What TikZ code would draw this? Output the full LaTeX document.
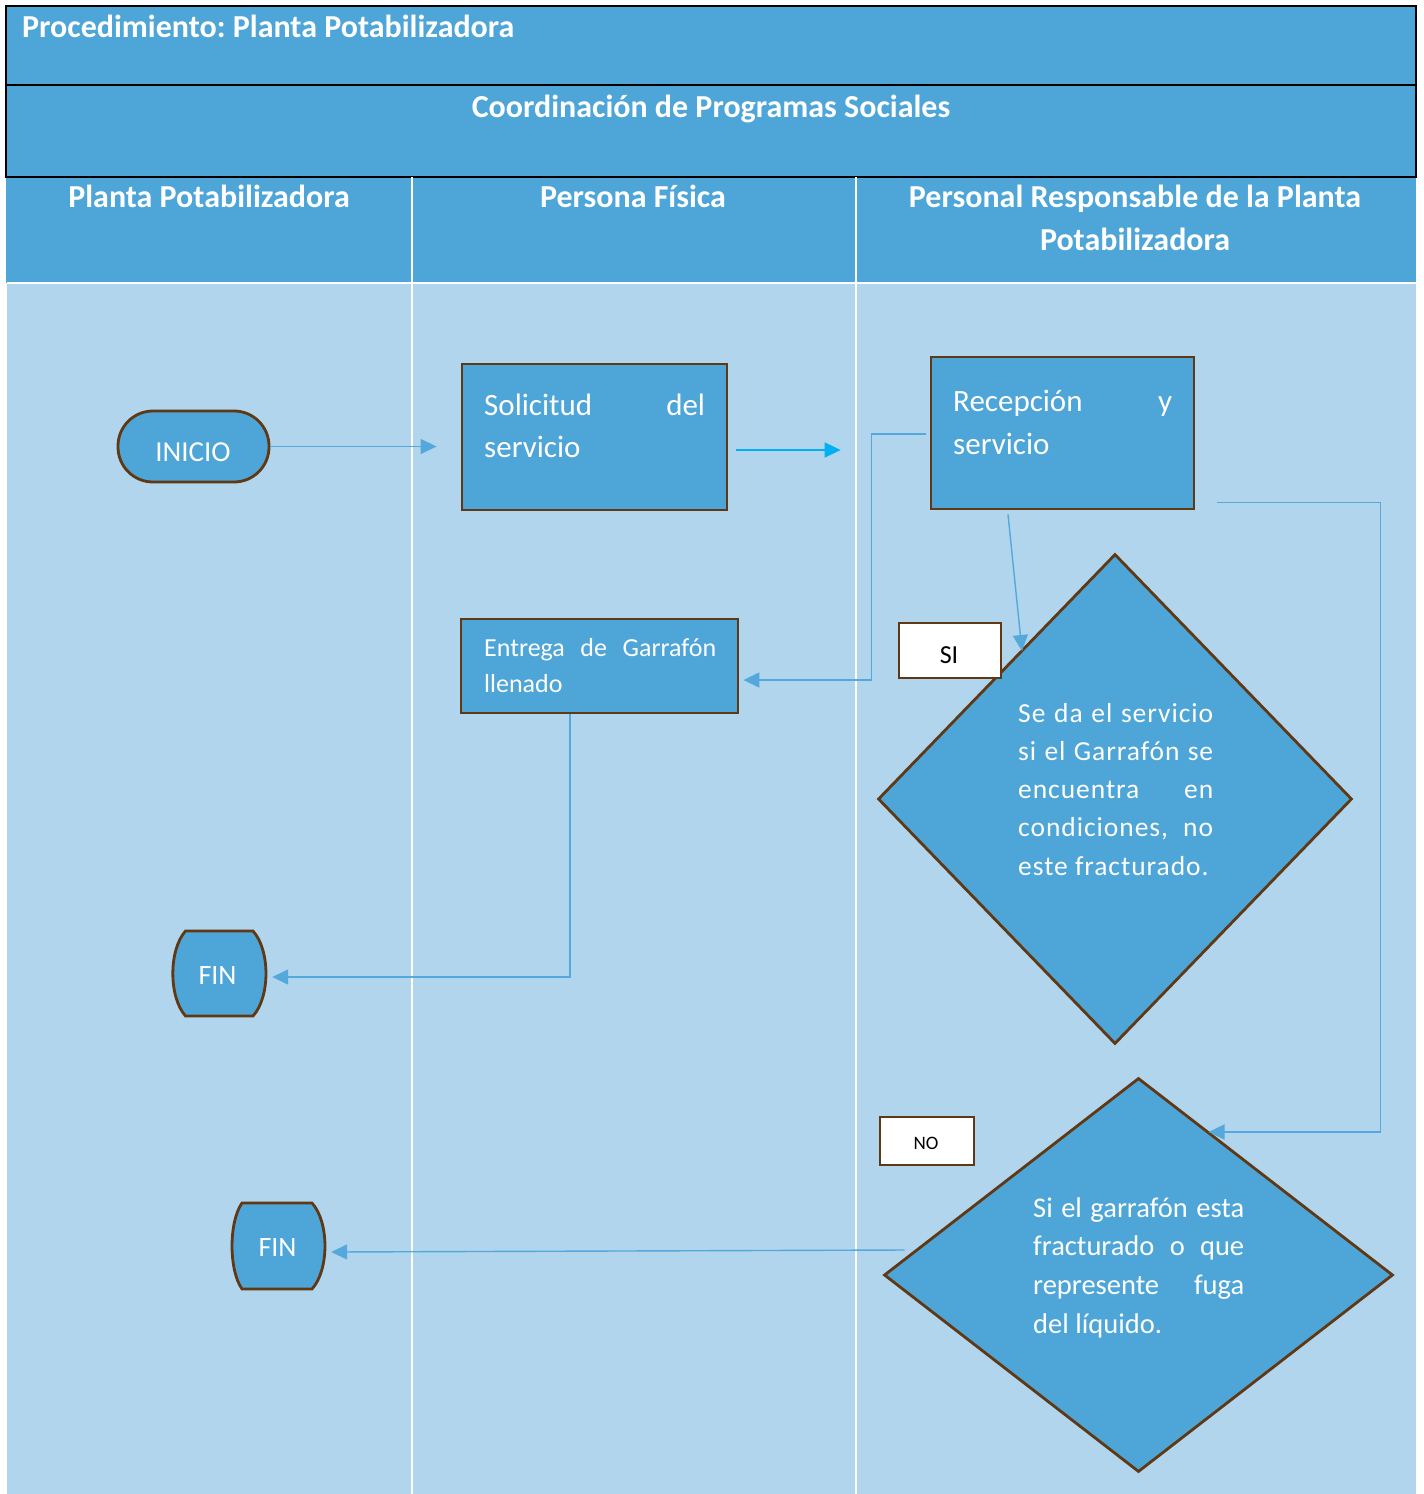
\documentclass[tikz,border=0pt]{standalone}
\usepackage{fontspec}
\setmainfont{Carlito}
\newfontfamily\spaced{Carlito}[LetterSpace=3.5]
\usetikzlibrary{arrows.meta,calc,shapes.geometric}
\definecolor{dblue}{RGB}{78,165,216}
\definecolor{lblue}{RGB}{176,213,236}
\definecolor{brn}{RGB}{96,56,19}
\definecolor{arr}{RGB}{84,168,220}
\definecolor{cyanarr}{RGB}{0,176,240}
\frenchspacing
\begin{document}
\begin{tikzpicture}[x=1pt,y=-1pt,
  box/.style={draw=brn, line width=2.8pt, fill=dblue, inner sep=0pt},
  tagbox/.style={draw=brn, line width=2.8pt, fill=white, inner sep=0pt},
  hdr/.style={text=white, font=\fontsize{32}{43}\selectfont\bfseries, inner sep=0pt},
  wt/.style={text=white, inner sep=0pt},
  conn/.style={draw=arr, line width=1.4pt, -{Triangle[length=16pt,width=15pt]}},
  ]
\useasboundingbox (0,0) rectangle (1424,1494);
% background
\fill[white] (0,0) rectangle (1424,1494);
\fill[lblue] (7,283) rectangle (1416,1494);
\fill[dblue] (6,6) rectangle (1416,283);
\draw[line width=2.5pt] (6,6) rectangle (1416,177);
\draw[line width=2.5pt] (6,85) -- (1416,85);
\draw[white, line width=2pt] (412,177) -- (412,1494);
\draw[white, line width=2pt] (856,177) -- (856,1494);
\draw[white, line width=2pt] (7,283) -- (1416,283);
% headers
\node[hdr, anchor=base west] (t1) at (22,37) {Procedimiento: Planta Potabilizadora};
\node[hdr, anchor=base] (t2) at (711,117) {Coordinación de Programas Sociales};
\node[hdr, anchor=base] (h1) at (209,207) {Planta Potabilizadora};
\node[hdr, anchor=base] (h2) at (633,207) {Persona Física};
\node[hdr, anchor=base] (h3) at (1135,207) {\parbox[t]{520pt}{\centering Personal Responsable de la Planta\\Potabilizadora}};
% shapes
\node[box, rounded corners=35pt, minimum width=151pt, minimum height=71pt] (ini) at (193.5,446.5) {};
\node[wt, anchor=base, font=\fontsize{29}{35}\selectfont] (inil) at (193,461.5) {INICIO};
\node[box, minimum width=265pt, minimum height=146pt] (sol) at (594.5,437) {};
\node[wt, anchor=base west, font=\fontsize{31}{42}\selectfont] (soll) at (484,415)
  {\parbox[t]{221pt}{\makebox[221pt][s]{Solicitud del}\\servicio}};
\node[box, minimum width=263pt, minimum height=152pt] (rec) at (1062.5,433) {};
\node[wt, anchor=base west, font=\fontsize{31}{43}\selectfont] (recl) at (953,411)
  {\parbox[t]{219pt}{\makebox[219pt][s]{Recepción y}\\servicio}};
\node[box, minimum width=277pt, minimum height=94pt] (ent) at (599.5,666) {};
\node[wt, anchor=base west, font=\fontsize{26}{36}\selectfont] (entl) at (484,656)
  {\parbox[t]{232pt}{\makebox[232pt][s]{Entrega de Garrafón}\\llenado}};
\node[box, diamond, minimum width=474pt, minimum height=490pt] (d1) at (1115,799) {};
\node[wt, anchor=base west, font=\spaced\fontsize{27.5}{38.3}\selectfont] (d1l) at (1018,722)
  {\parbox[t]{195pt}{\makebox[195pt][s]{Se da el servicio}\\\makebox[195pt][s]{si el Garrafón se}\\\makebox[195pt][s]{encuentra en}\\\makebox[195pt][s]{condiciones, no}\\este fracturado.}};
\node[box, diamond, minimum width=509pt, minimum height=394pt] (d2) at (1138.5,1275) {};
\node[wt, anchor=base west, font=\fontsize{28.5}{38.7}\selectfont] (d2l) at (1033,1217)
  {\parbox[t]{211pt}{\makebox[211pt][s]{Si el garrafón esta}\\\makebox[211pt][s]{fracturado o que}\\\makebox[211pt][s]{represente fuga}\\del líquido.}};
\node[tagbox, minimum width=102pt, minimum height=55pt] (si) at (950,650.5) {};
\node[anchor=base, inner sep=0pt, font=\fontsize{26}{30}\selectfont] (sil) at (949,663) {SI};
\node[tagbox, minimum width=94pt, minimum height=48pt] (no) at (927,1141) {};
\node[anchor=base, inner sep=0pt, font=\fontsize{19}{22}\selectfont] (nol) at (926,1149.5) {NO};
% FIN shapes
\draw[box] (185.5,931) -- (253,931) .. controls (270.3,950) and (270.3,997) .. (253,1016)
  -- (185.5,1016) .. controls (168.6,997) and (168.6,950) .. (185.5,931) -- cycle;
\node[inner sep=0pt, minimum width=93pt, minimum height=85pt] (fin1) at (219.5,973.5) {};
\node[wt, anchor=base, font=\fontsize{28}{33}\selectfont] (fin1l) at (217.5,984) {FIN};
\draw[box] (242,1203) -- (312,1203) .. controls (329.3,1222) and (329.3,1270) .. (312,1289)
  -- (242,1289) .. controls (228.7,1270) and (228.7,1222) .. (242,1203) -- cycle;
\node[inner sep=0pt, minimum width=94pt, minimum height=86pt] (fin2) at (279,1246) {};
\node[wt, anchor=base, font=\fontsize{28}{33}\selectfont] (fin2l) at (277.5,1256) {FIN};
% connectors
\draw[conn] (ini.east) -- ($(ini.east -| sol.west)+(-24,0)$);
\draw[conn, draw=cyanarr, line width=1.8pt] ($(sol.east)+(8,13)$) -- ($(sol.east -| rec.west)+(-89,13)$);
\draw[conn] ($(rec.west)+(-4,1)$) -- ++(-54,0) |- ($(ent.east)+(4,14)$);
\draw[conn] ($(rec.south)+(-54.5,4)$) -- ($(d1.center)+(-93,-148)$);
\draw[conn] ($(rec.south east)+(22,-8)$) -- ++(163,0) |- ($(d2.center)+(70,-143)$);
\draw[conn] ($(ent.south)+(-29.5,0)$) |- ($(fin1.east)+(6,3.5)$);
\draw[conn] ($(d2.west)+(22,-25)$) -- ($(fin2.east)+(5,6)$);
\end{tikzpicture}
\end{document}
